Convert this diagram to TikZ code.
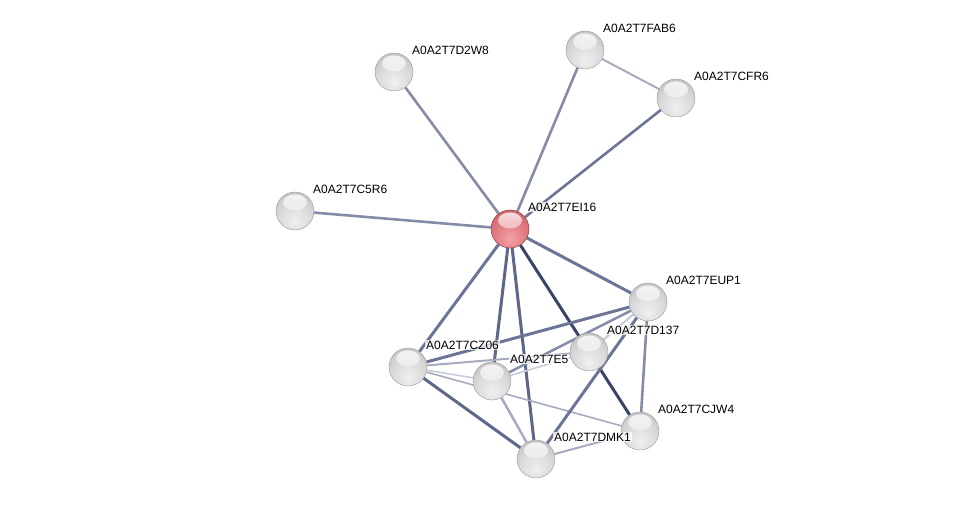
\documentclass[tikz,border=0pt]{standalone}
\usepackage{fontspec}
\setmainfont{Liberation Sans}
\usetikzlibrary{fadings}
\pgfdeclarelayer{edges}
\pgfsetlayers{edges,main}
\pgfdeclareradialshading{graysphere}{\pgfpoint{0bp}{-14bp}}{%
  color(0bp)=(black!6); color(22bp)=(black!15); color(36bp)=(black!24);
  color(46bp)=(black!33); color(55bp)=(black!44); color(64bp)=(black!56); color(100bp)=(black!56)}
\definecolor{redA}{HTML}{F4A2A6}
\definecolor{redB}{HTML}{E07880}
\definecolor{redC}{HTML}{CE6068}
\definecolor{redD}{HTML}{B84E56}
\definecolor{redE}{HTML}{983840}
\pgfdeclareradialshading{redsphere}{\pgfpoint{0bp}{-14bp}}{%
  color(0bp)=(redA); color(22bp)=(redB); color(38bp)=(redC);
  color(52bp)=(redD); color(64bp)=(redE); color(100bp)=(redE)}
\definecolor{eDark}{HTML}{3B4466}
\definecolor{eMidD}{HTML}{5E6789}
\definecolor{eMid}{HTML}{6C7596}
\definecolor{eMidL}{HTML}{858CA7}
\definecolor{eLight}{HTML}{A7ABC0}
\definecolor{eVLight}{HTML}{C9CCDA}
\tikzset{
  ballnode/.style={circle, minimum size=38pt, inner sep=0pt, draw=black!40, line width=0.4pt,
    path picture={\fill[white,fill opacity=0.85,path fading=south]
      ([yshift=8.5pt]path picture bounding box.center) ellipse (12pt and 8pt);}},
  grayball/.style={ballnode, shading=graysphere},
  redball/.style={ballnode, shading=redsphere, draw=red!30!black!80},
  lbl/.style={anchor=west, inner sep=1pt, fill=white, fill opacity=0.75, text opacity=1,
    font=\fontsize{12}{14}\selectfont, text=black},
  edge/.style={line width=#1},
  edge/.default=2.6pt,
}
\begin{document}
\begin{tikzpicture}[x=1pt,y=-1pt]
\useasboundingbox (0,0) rectangle (976,505);
% nodes and labels, in drawing order
\node[redball]  (EI16) at (510,229) {};
\node[lbl] (lEI16) at ([xshift=17pt,yshift=22pt]EI16.center) {A0A2T7EI16};
\node[grayball] (D2W8) at (394,72) {};
\node[lbl] (lD2W8) at ([xshift=17pt,yshift=22pt]D2W8.center) {A0A2T7D2W8};
\node[grayball] (FAB6) at (585,50) {};
\node[lbl] (lFAB6) at ([xshift=17pt,yshift=22pt]FAB6.center) {A0A2T7FAB6};
\node[grayball] (CFR6) at (676,98) {};
\node[lbl] (lCFR6) at ([xshift=17pt,yshift=22pt]CFR6.center) {A0A2T7CFR6};
\node[grayball] (C5R6) at (295,211) {};
\node[lbl] (lC5R6) at ([xshift=17pt,yshift=22pt]C5R6.center) {A0A2T7C5R6};
\node[grayball] (EUP1) at (648,302) {};
\node[lbl] (lEUP1) at ([xshift=17pt,yshift=22pt]EUP1.center) {A0A2T7EUP1};
\node[grayball] (CJW4) at (640,431) {};
\node[lbl] (lCJW4) at ([xshift=17pt,yshift=22pt]CJW4.center) {A0A2T7CJW4};
\node[grayball] (DMK1) at (536,459) {};
\node[lbl] (lDMK1) at ([xshift=17pt,yshift=22pt]DMK1.center) {A0A2T7DMK1};
\node[grayball] (CZ06) at (408,367) {};
\node[lbl] (lCZ06) at ([xshift=17pt,yshift=22pt]CZ06.center) {A0A2T7CZ06};
\node[grayball] (E5)   at (492,381) {};
\node[lbl] (lE5) at ([xshift=17pt,yshift=22pt]E5.center) {A0A2T7E5};
\node[grayball] (D137) at (589,352) {};
\node[lbl] (lD137) at ([xshift=17pt,yshift=22pt]D137.center) {A0A2T7D137};
% edges
\begin{pgfonlayer}{edges}
\fill[white] (0,0) rectangle (976,505);
\draw[edge, eMidL] (EI16) -- (D2W8);
\draw[edge, eMidL] (EI16) -- (FAB6);
\draw[edge, eMid] (EI16) -- (CFR6);
\draw[edge, eMidL] (EI16) -- (C5R6);
\draw[edge=2pt, eLight] (FAB6) -- (CFR6);
\draw[edge=3pt, eMid] (EI16) -- (EUP1);
\draw[edge=3pt, eDark] (EI16) -- (CJW4);
\draw[edge=3pt, eMid] (EI16) -- (CZ06);
\draw[edge=3pt, eMidD] (EI16) -- (E5);
\draw[edge=3pt, eMidD] (EI16) -- (DMK1);
\draw[edge=3pt, eMid] (CZ06) -- (EUP1);
\draw[edge=2pt, eLight] (CZ06) -- (D137);
\draw[edge=1.6pt, eVLight] (CZ06) -- (E5);
\draw[edge=1.6pt, eLight] (CZ06) -- (CJW4);
\draw[edge=3pt, eMidD] (CZ06) -- (DMK1);
\draw[edge=2.5pt, eMidL] (E5) -- (EUP1);
\draw[edge=1.6pt, eVLight] (E5) -- (D137);
\draw[edge=2.5pt, eLight] (E5) -- (DMK1);
\draw[edge=2.2pt, eVLight] (EUP1) -- (D137);
\draw[edge=3pt, eMid] (EUP1) -- (DMK1);
\draw[edge=2.6pt, eMidL] (EUP1) -- (CJW4);
\draw[edge=2pt, eLight] (DMK1) -- (CJW4);
\end{pgfonlayer}
\end{tikzpicture}
\end{document}
